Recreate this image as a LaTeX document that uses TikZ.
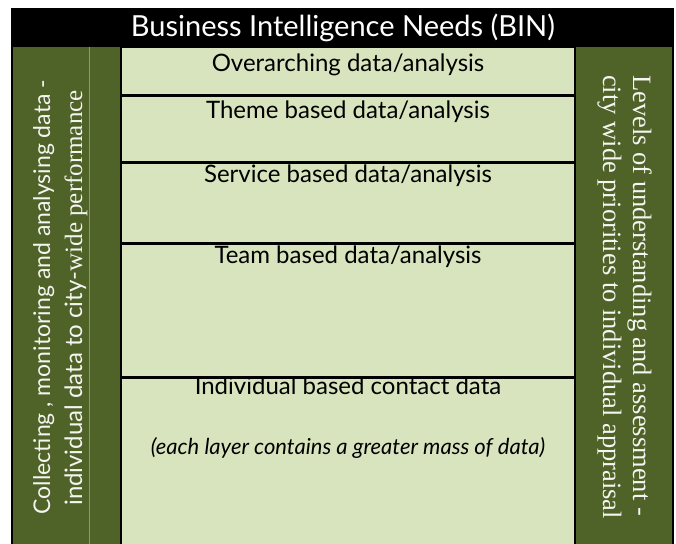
\documentclass[tikz,border=0pt]{standalone}
\usepackage{fontspec}
\setmainfont{Lato}
\newfontfamily\serifface{Liberation Serif}
\definecolor{paneldark}{HTML}{4F6228}
\definecolor{rowlight}{HTML}{D7E4BD}
\definecolor{panelrule}{HTML}{8C9A6E}
\definecolor{paneltext}{HTML}{F4F4F0}
\begin{document}
\begin{tikzpicture}[x=1pt,y=-1pt,
  panel/.style={draw=none, fill=paneldark, inner sep=0pt, anchor=north west},
  layer/.style={draw=black, line width=1.5pt, fill=rowlight, inner sep=0pt,
    minimum width=454pt, anchor=north},
  layertext/.style={anchor=base, font=\fontsize{24}{28}\selectfont, text=black},
  sidetext/.style={anchor=base, text=paneltext, inner sep=0pt}]
\useasboundingbox (0,0) rectangle (676,543);
% black frame and title band
\node[fill=black, inner sep=0pt, minimum width=663pt, minimum height=540pt,
  anchor=north west] (frame) at (11,8) {};
\node[anchor=base, text=white, font=\fontsize{29}{33}\selectfont] (title)
  at (343,37) {Business Intelligence Needs (BIN)};
% side panels
\node[panel, minimum width=107pt, minimum height=500pt] (left) at (13,47) {};
\node[panel, minimum width=96pt, minimum height=500pt] (right) at (576,47) {};
\path (left.north) ++(23,0) coordinate (lr1)
  (left.south) ++(23,0) coordinate (lr2);
\draw[panelrule, line width=0.8pt] (lr1) -- (lr2);
% stacked layers
\node[layer, minimum height=47pt] (l1) at (348,47) {};
\node[layer, minimum height=65pt] (l2) at (l1.south) {};
\node[layer, minimum height=80pt] (l3) at (l2.south) {};
\node[layer, minimum height=132pt] (l4) at (l3.south) {};
\node[layer, minimum height=180pt] (l5) at (l4.south) {};
\node[layertext] (t1) at (348,71) {Overarching data/analysis};
\node[layertext] (t2) at (348,118) {Theme based data/analysis};
\node[layertext] (t3) at (348,182) {Service based data/analysis};
\node[layertext] (t4) at (348,263) {Team based data/analysis};
\node[layertext] (t5) at (348,394) {Individual based contact data};
\node[layertext, font=\fontsize{22}{26}\selectfont\itshape] (t6) at (348,454)
  {(each layer contains a greater mass of data)};
% side captions
\node[sidetext, rotate=90, font=\fontsize{23}{27}\selectfont] (lc1) at (50,297)
  {Collecting , monitoring and analysing data -};
\node[sidetext, rotate=90, font=\fontsize{24}{28}\selectfont] (lc2) at (82,298)
  {individual data to city-{\serifface\fontsize{25}{29}\selectfont wide performance}};
\node[sidetext, rotate=-90, anchor=base west, font=\serifface\fontsize{26.5}{30}\selectfont]
  (rc1) at (633,75) {Levels of understanding and assessment -};
\node[sidetext, rotate=-90, anchor=base west, font=\serifface\fontsize{26.5}{30}\selectfont]
  (rc2) at (603,75) {city wide priorities to individual appraisal};
\end{tikzpicture}
\end{document}
